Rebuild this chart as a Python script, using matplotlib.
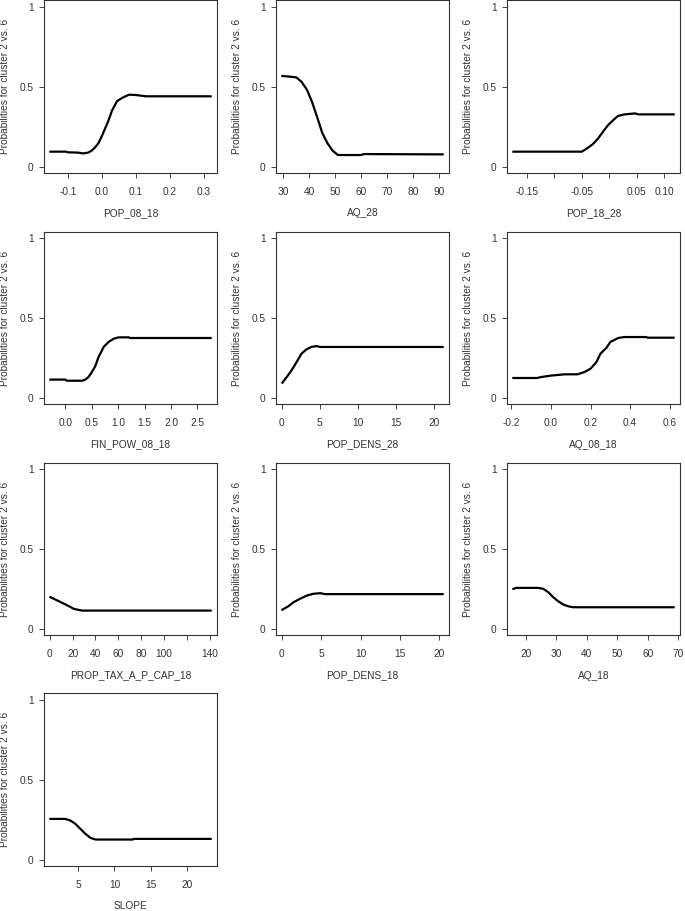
import matplotlib
matplotlib.use("Agg")
import matplotlib.pyplot as plt

plt.rcParams["font.family"] = ["Liberation Sans", "DejaVu Sans"]

Y_LABEL = "Probabilities for cluster 2 vs. 6"

pop_08_18_x = [-0.151, -0.105, -0.1, -0.07, -0.055, -0.04, -0.03, -0.02, -0.01, 0.0, 0.01, 0.02,
               0.03, 0.045, 0.06, 0.08, 0.1, 0.13, 0.32]
pop_08_18_y = [0.094, 0.094, 0.09, 0.088, 0.083, 0.088, 0.10, 0.12, 0.146, 0.19, 0.24, 0.29,
               0.35, 0.41, 0.43, 0.45, 0.448, 0.44, 0.44]

aq_28_x = [29.6, 33, 35, 37, 39, 41, 43, 45, 47, 49, 51, 60, 61, 91.4]
aq_28_y = [0.567, 0.562, 0.558, 0.53, 0.483, 0.406, 0.31, 0.21, 0.146, 0.10, 0.073, 0.073, 0.079, 0.077]

pop_18_28_x = [-0.174, -0.05, -0.047, -0.04, -0.03, -0.02, -0.011, -0.002, 0.007, 0.016, 0.028,
               0.047, 0.053, 0.117]
pop_18_28_y = [0.094, 0.094, 0.10, 0.115, 0.14, 0.177, 0.22, 0.26, 0.29, 0.317, 0.327,
               0.333, 0.327, 0.327]

fin_pow_x = [-0.28, 0.0, 0.03, 0.32, 0.38, 0.44, 0.5, 0.57, 0.63, 0.73, 0.82, 0.92, 1.01, 1.2, 1.23, 2.75]
fin_pow_y = [0.115, 0.115, 0.108, 0.108, 0.115, 0.131, 0.16, 0.20, 0.256, 0.32, 0.35, 0.371, 0.379,
             0.379, 0.375, 0.375]

pop_dens_28_x = [0.1, 0.66, 1.3, 1.97, 2.6, 3.25, 3.9, 4.6, 5.0, 21.1]
pop_dens_28_y = [0.096, 0.131, 0.173, 0.225, 0.277, 0.304, 0.319, 0.325, 0.319, 0.319]

aq_08_18_x = [-0.19, -0.07, -0.05, 0.0, 0.068, 0.135, 0.17, 0.2, 0.23, 0.25, 0.28, 0.3, 0.34, 0.37,
              0.48, 0.49, 0.62]
aq_08_18_y = [0.125, 0.125, 0.131, 0.14, 0.148, 0.148, 0.163, 0.183, 0.225, 0.277, 0.313, 0.35,
              0.375, 0.381, 0.381, 0.377, 0.377]

prop_tax_x = [0.6, 5, 11, 17, 21, 25.5, 28.5, 140.8]
prop_tax_y = [0.199, 0.184, 0.163, 0.142, 0.126, 0.119, 0.115, 0.115]

pop_dens_18_x = [0.1, 0.85, 1.5, 2.3, 3.2, 4.0, 4.9, 5.5, 20.4]
pop_dens_18_y = [0.121, 0.142, 0.167, 0.188, 0.209, 0.22, 0.224, 0.218, 0.218]

aq_18_x = [16.0, 17.0, 24.1, 25.8, 27.4, 29.0, 30.6, 32.3, 33.9, 35.5, 68.4]
aq_18_y = [0.251, 0.257, 0.257, 0.251, 0.23, 0.199, 0.174, 0.153, 0.142, 0.136, 0.136]

slope_x = [1.14, 3.2, 3.9, 4.6, 5.3, 6.0, 6.7, 7.4, 12.5, 12.7, 23.3]
slope_y = [0.255, 0.255, 0.245, 0.224, 0.192, 0.161, 0.136, 0.126, 0.126, 0.13, 0.13]

panels = [
    ("POP_08_18", pop_08_18_x, pop_08_18_y, [-0.1, 0.0, 0.1, 0.2, 0.3], ["-0.1", "0.0", "0.1", "0.2", "0.3"]),
    ("AQ_28", aq_28_x, aq_28_y, [30, 40, 50, 60, 70, 80, 90], ["30", "40", "50", "60", "70", "80", "90"]),
    ("POP_18_28", pop_18_28_x, pop_18_28_y, [-0.15, -0.10, -0.05, 0.0, 0.05, 0.10],
     ["-0.15", "", "-0.05", "", "0.05", "0.10"]),
    ("FIN_POW_08_18", fin_pow_x, fin_pow_y, [0, 0.5, 1, 1.5, 2, 2.5], ["0.0", "0.5", "1.0", "1.5", "2.0", "2.5"]),
    ("POP_DENS_28", pop_dens_28_x, pop_dens_28_y, [0, 5, 10, 15, 20], ["0", "5", "10", "15", "20"]),
    ("AQ_08_18", aq_08_18_x, aq_08_18_y, [-0.2, 0.0, 0.2, 0.4, 0.6], ["-0.2", "0.0", "0.2", "0.4", "0.6"]),
    ("PROP_TAX_A_P_CAP_18", prop_tax_x, prop_tax_y, [0, 20, 40, 60, 80, 100, 120, 140],
     ["0", "20", "40", "60", "80", "100", "", "140"]),
    ("POP_DENS_18", pop_dens_18_x, pop_dens_18_y, [0, 5, 10, 15, 20], ["0", "5", "10", "15", "20"]),
    ("AQ_18", aq_18_x, aq_18_y, [20, 30, 40, 50, 60, 70], ["20", "30", "40", "50", "60", "70"]),
    ("SLOPE", slope_x, slope_y, [5, 10, 15, 20], ["5", "10", "15", "20"]),
]

W, H = 685, 911
col_left = [44, 276, 507]
row_top = [0.3, 231.6, 462.6, 693.3]
box_w, box_h = 173, 172.8

text_col = "#333333"
fs = 7.3

fig = plt.figure(figsize=(W / 100, H / 100), dpi=100)

for i, (name, xs, ys, ticks, labels) in enumerate(panels):
    r, c = divmod(i, 3)
    ax = fig.add_axes([col_left[c] / W, 1 - (row_top[r] + box_h) / H, box_w / W, box_h / H])
    ax.plot(xs, ys, color="black", linewidth=1.6, solid_joinstyle="round")
    # R style axis range: data range padded by 4% on each side
    lo, hi = min(xs), max(xs)
    span = hi - lo
    ax.set_xlim(lo - 0.04 * span, hi + 0.04 * span)
    ax.set_ylim(-0.04, 1.04)
    ax.set_yticks([0, 0.5, 1])
    ax.set_yticklabels(["0", "0.5", "1"])
    ax.set_xticks(ticks)
    ax.set_xticklabels(labels)
    ax.tick_params(axis="x", direction="out", length=3.6, width=0.7, pad=6.5, labelsize=fs,
                   colors="#444444", labelcolor=text_col)
    ax.tick_params(axis="y", direction="out", length=3.6, width=0.7, pad=4, labelsize=fs,
                   colors="#444444", labelcolor=text_col)
    for sp in ax.spines.values():
        sp.set_linewidth(0.8)
        sp.set_color("#333333")
    ax.set_xlabel(name, fontsize=fs, color=text_col, labelpad=8)
    ax.set_ylabel(Y_LABEL, fontsize=fs, color=text_col, labelpad=6.5)

fig.savefig("out.png", dpi=100)
